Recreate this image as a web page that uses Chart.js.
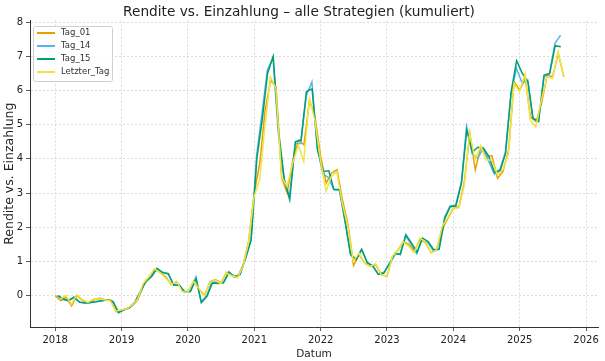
<!DOCTYPE html>
<html>
<head>
<meta charset="utf-8">
<script src="https://cdn.jsdelivr.net/npm/chart.js@4.4.0/dist/chart.umd.min.js"></script>
<style>
    html, body { margin: 0; padding: 0; background: #fff; }
    #wrap { width: 605px; height: 361px; }
</style>
</head>
<body>
<div id="wrap"><canvas id="chart" width="605" height="361"></canvas></div>
<script>
'use strict';

// first month of all series: January 2018, one point per month
const startYear = 2018;
const yearTicks = [2018, 2019, 2020, 2021, 2022, 2023, 2024, 2025, 2026];
const valueTicks = [0, 1, 2, 3, 4, 5, 6, 7, 8];
const seriesNames = ['Tag_01', 'Tag_14', 'Tag_15', 'Letzter_Tag'];
const seriesColors = ['#E69F00', '#56B4E9', '#009E73', '#F0E442'];

// Tag_01: 1st of each month, 2018-01 .. 2025-09
const tag01 = [
    0.00, -0.15, -0.05, -0.30, 0.00, -0.15, -0.22, -0.12, -0.08, -0.12, -0.12, -0.47,
    -0.42, -0.38, -0.30, -0.12, 0.30, 0.50, 0.76, 0.68, 0.55, 0.32, 0.40, 0.15,
    0.10, 0.42, 0.20, 0.00, 0.40, 0.47, 0.37, 0.68, 0.60, 0.55, 0.90, 1.60,
    3.00, 3.90, 5.40, 6.30, 6.10, 3.44, 3.00, 3.97, 4.55, 4.41, 5.72, 5.23,
    4.07, 3.29, 3.58, 3.68, 2.80, 2.07, 0.88, 1.20, 0.95, 0.85, 0.90, 0.61,
    0.56, 1.15, 1.32, 1.58, 1.50, 1.30, 1.65, 1.55, 1.25, 1.34, 1.95, 2.25,
    2.55, 2.60, 3.30, 4.75, 3.68, 4.36, 4.07, 4.09, 3.43, 3.63, 4.26, 6.26,
    6.01, 6.35, 5.23, 5.09, 5.62, 6.45, 6.40, 7.08, 6.40
];

// Tag_14: 14th of each month, 2018-01 .. 2025-08
const tag14 = [
    0.00, -0.12, -0.15, -0.05, -0.18, -0.22, -0.20, -0.17, -0.15, -0.12, -0.17, -0.48,
    -0.42, -0.35, -0.20, 0.12, 0.45, 0.58, 0.80, 0.68, 0.64, 0.32, 0.32, 0.10,
    0.14, 0.55, -0.18, 0.00, 0.42, 0.37, 0.38, 0.70, 0.55, 0.62, 1.10, 1.65,
    4.10, 5.40, 6.60, 6.95, 4.70, 3.40, 2.90, 4.45, 4.45, 5.85, 6.25, 4.30,
    3.55, 3.45, 3.10, 3.08, 2.20, 1.20, 1.08, 1.35, 0.98, 0.88, 0.62, 0.68,
    0.92, 1.20, 1.22, 1.75, 1.50, 1.22, 1.66, 1.55, 1.30, 1.36, 2.30, 2.62,
    2.65, 3.30, 4.95, 4.15, 4.02, 4.31, 3.93, 3.55, 3.70, 4.20, 5.90, 6.65,
    6.22, 6.30, 5.20, 5.10, 6.40, 6.50, 7.38, 7.62
];

// Tag_15: 15th of each month, 2018-01 .. 2025-08
const tag15 = [
    0.00, -0.10, -0.15, -0.05, -0.20, -0.22, -0.20, -0.18, -0.15, -0.12, -0.18, -0.50,
    -0.42, -0.35, -0.20, 0.10, 0.42, 0.55, 0.79, 0.67, 0.64, 0.30, 0.30, 0.10,
    0.12, 0.49, -0.21, -0.02, 0.37, 0.35, 0.37, 0.68, 0.53, 0.62, 1.10, 1.63,
    4.00, 5.20, 6.50, 7.00, 4.80, 3.40, 2.80, 4.50, 4.55, 5.97, 6.05, 4.26,
    3.63, 3.65, 3.10, 3.10, 2.20, 1.20, 1.05, 1.35, 0.95, 0.86, 0.62, 0.66,
    0.95, 1.24, 1.20, 1.78, 1.54, 1.27, 1.68, 1.58, 1.34, 1.36, 2.26, 2.60,
    2.62, 3.30, 4.85, 4.20, 4.34, 4.31, 4.07, 3.60, 3.65, 4.16, 5.97, 6.87,
    6.50, 6.26, 5.19, 5.09, 6.45, 6.50, 7.31, 7.28
];

// Letzter_Tag: last day of each month, 2018-01 .. 2025-08
const letzterTag = [
    -0.10, 0.00, -0.25, 0.02, -0.12, -0.20, -0.10, -0.10, -0.12, -0.15, -0.45, -0.42,
    -0.38, -0.28, -0.10, 0.35, 0.55, 0.78, 0.67, 0.52, 0.32, 0.42, 0.12, 0.09,
    0.42, 0.22, -0.02, 0.38, 0.45, 0.35, 0.66, 0.58, 0.52, 0.85, 1.55, 2.90,
    3.39, 4.94, 6.40, 6.06, 3.48, 3.19, 3.87, 4.40, 3.92, 5.77, 5.14, 3.97,
    3.05, 3.48, 3.63, 2.70, 2.02, 1.00, 1.24, 0.95, 0.85, 0.93, 0.61, 0.56,
    1.15, 1.30, 1.58, 1.44, 1.25, 1.68, 1.58, 1.24, 1.34, 2.02, 2.27, 2.56,
    2.56, 3.20, 4.75, 3.97, 4.38, 3.97, 3.97, 3.53, 3.68, 4.16, 6.20, 5.97,
    6.50, 5.14, 4.94, 5.72, 6.40, 6.35, 7.13, 6.40
];


/** @returns {Number} date as decimal year (day 0 = last day of previous month) */
function decimalYear(year, month, day) {
    const t = Date.UTC(year, month, day);
    const y = new Date(t).getUTCFullYear();
    return y + (t - Date.UTC(y, 0, 1)) / (Date.UTC(y + 1, 0, 1) - Date.UTC(y, 0, 1));
}

function toPoints(values, day, monthShift) {
    return values.map((v, i) => {
        const year = startYear + Math.floor(i / 12);
        const month = (i % 12) + monthShift;
        return { x: decimalYear(year, month, day), y: v };
    });
}

const legendBox = {
    id: 'legendBox',
    afterDraw(chart) {
        const ctx = chart.ctx;
        const x = 33, y = 26, w = 79, h = 55;
        ctx.save();
        ctx.fillStyle = 'rgba(255,255,255,0.85)';
        ctx.strokeStyle = '#d0d0d0';
        ctx.lineWidth = 1;
        ctx.beginPath();
        ctx.roundRect(x + 0.5, y + 0.5, w, h, 2);
        ctx.fill();
        ctx.stroke();
        ctx.font = '8.5px "DejaVu Sans"';
        ctx.textBaseline = 'middle';
        seriesNames.forEach((name, i) => {
            const ly = 33 + i * 13;
            ctx.strokeStyle = seriesColors[i];
            ctx.lineWidth = 2;
            ctx.beginPath();
            ctx.moveTo(37, ly);
            ctx.lineTo(55, ly);
            ctx.stroke();
            ctx.fillStyle = '#333';
            ctx.fillText(name, 61, ly);
        });
        ctx.restore();
    }
};

(function () {
    const ctx = document.getElementById('chart').getContext('2d');
    Chart.defaults.font.family = '"DejaVu Sans", sans-serif';
    Chart.defaults.color = '#222';

    const seriesData = [
        toPoints(tag01, 1, 0),
        toPoints(tag14, 14, 0),
        toPoints(tag15, 15, 0),
        toPoints(letzterTag, 0, 1)
    ];

    new Chart(ctx, {
        type: 'line',
        data: {
            datasets: seriesNames.map((name, i) => ({
                label: name,
                data: seriesData[i],
                borderColor: seriesColors[i],
                backgroundColor: seriesColors[i],
                borderWidth: 1.5,
                pointRadius: 0,
                tension: 0,
                order: seriesNames.length - i
            }))
        },
        options: {
            responsive: false,
            animation: false,
            layout: { padding: { top: 0, right: 7, left: 0, bottom: 0 } },
            plugins: {
                legend: { display: false },
                tooltip: { enabled: false },
                title: {
                    display: true,
                    text: 'Rendite vs. Einzahlung – alle Strategien (kumuliert)',
                    font: { size: 13.7, weight: 'normal' },
                    color: '#222',
                    padding: { top: 4, bottom: 0 }
                }
            },
            scales: {
                x: {
                    type: 'linear',
                    min: 2017.62,
                    max: 2026.18,
                    afterBuildTicks: s => { s.ticks = yearTicks.map(v => ({ value: v })); },
                    afterFit: s => { s.height = 34; },
                    ticks: {
                        autoSkip: false,
                        maxRotation: 0,
                        font: { size: 10 },
                        padding: 3,
                        callback: v => String(v)
                    },
                    grid: {
                        color: '#d2d2d2',
                        lineWidth: 0.8,
                        tickColor: '#333',
                        tickLength: 4,
                        tickBorderDash: []
                    },
                    border: { display: true, color: '#333', width: 1, dash: [2, 2] },
                    title: { display: true, text: 'Datum', font: { size: 10.5 }, padding: { top: 0, bottom: 0 } }
                },
                y: {
                    type: 'linear',
                    min: -0.92,
                    max: 8.05,
                    afterBuildTicks: s => { s.ticks = valueTicks.map(v => ({ value: v })); },
                    afterFit: s => { s.width = 30; },
                    ticks: {
                        autoSkip: false,
                        font: { size: 10 },
                        padding: 3,
                        callback: v => String(v)
                    },
                    grid: {
                        color: '#d2d2d2',
                        lineWidth: 0.8,
                        tickColor: '#333',
                        tickLength: 4,
                        tickBorderDash: []
                    },
                    border: { display: true, color: '#333', width: 1, dash: [2, 2] },
                    title: { display: true, text: 'Rendite vs. Einzahlung', font: { size: 12.5 }, padding: { top: 2, bottom: 0 } }
                }
            }
        },
        plugins: [legendBox]
    });
})();
</script>
</body>
</html>
